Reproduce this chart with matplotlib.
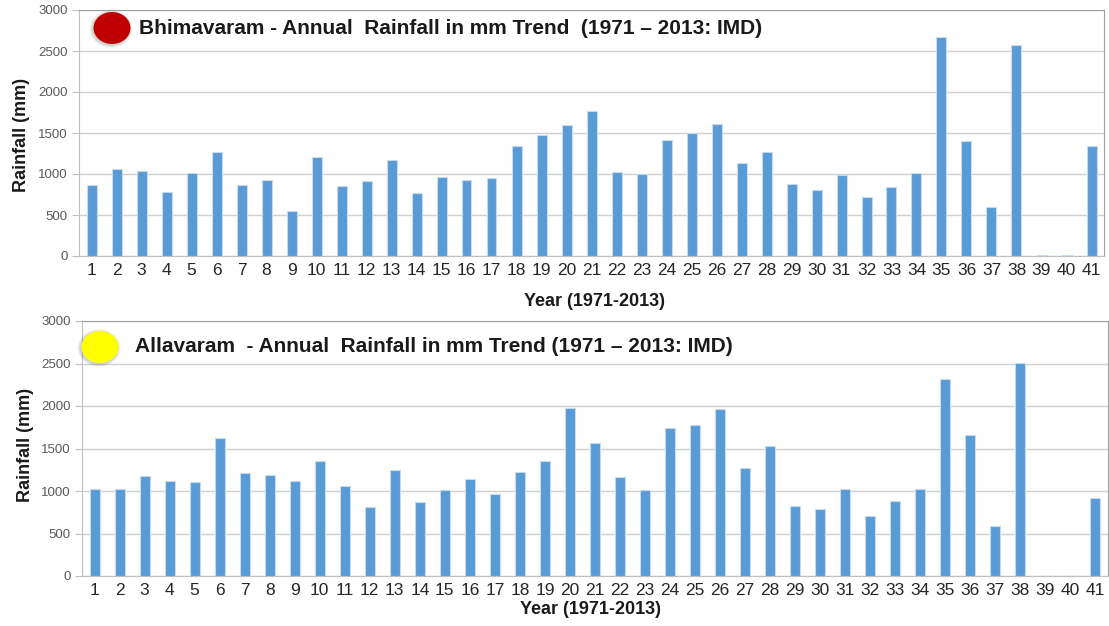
import matplotlib.pyplot as plt
from matplotlib.patches import Ellipse

years = list(range(1, 42))

bhimavaram = [862, 1065, 1037, 780, 1012, 1272, 870, 923, 553, 1211,
              850, 915, 1167, 764, 959, 923, 947, 1341, 1476, 1598,
              1768, 1020, 1000, 1415, 1496, 1610, 1130, 1264, 882, 801,
              988, 720, 841, 1012, 2671, 1402, 593, 2577, 8, 8, 1346]

allavaram = [1021, 1029, 1174, 1115, 1108, 1624, 1209, 1194, 1123, 1358,
             1057, 810, 1245, 865, 1014, 1139, 963, 1225, 1350, 1980,
             1566, 1166, 1006, 1742, 1777, 1969, 1276, 1526, 818, 787,
             1029, 701, 888, 1022, 2317, 1659, 591, 2501, 0, 0, 912]

titles = ["Bhimavaram - Annual  Rainfall in mm Trend  (1971 \u2013 2013: IMD)",
          "Allavaram  - Annual  Rainfall in mm Trend (1971 \u2013 2013: IMD)"]
dot_colors = ["#c00000", "#ffff00"]

plt.rcParams['font.family'] = ['Liberation Sans', 'DejaVu Sans']

W, H = 1109, 626
fig = plt.figure(figsize=(W / 100, H / 100), dpi=100)


def box(l, t, r, b):
    return [l / W, 1 - b / H, (r - l) / W, (b - t) / H]


def px(x, y):
    return x / W, 1 - y / H


axes_px = [(79, 10, 1104, 256), (82, 321, 1108, 576)]
dot_px = [(112, 28), (100, 347)]
title_px = [(139, 28), (135, 347)]
xlabel_px = [(595, 301), (590, 610)]
ylabel_px = [(22, 135), (25, 445)]

for i, vals in enumerate([bhimavaram, allavaram]):
    ax = fig.add_axes(box(*axes_px[i]))
    ax.bar(years, vals, width=0.4, color="#5b9bd5", edgecolor="#c5dcf0",
           linewidth=0.8, zorder=3)
    ax.set_xlim(0.5, 41.5)
    ax.set_ylim(0, 3000)
    ax.set_yticks(range(0, 3001, 500))
    ax.set_xticks(years)
    ax.set_xticklabels([str(y) for y in years])
    ax.grid(axis="y", color="#d0d0d0", linewidth=1, zorder=0)
    ax.tick_params(axis="x", length=0, pad=5, labelsize=12.5, labelcolor="#262626")
    ax.tick_params(axis="y", length=5, color="#bfbfbf", pad=3, labelsize=9.5,
                   labelcolor="#595959")
    for s in ["left", "bottom"]:
        ax.spines[s].set_color("#bfbfbf")
    for s in ["top", "right"]:
        ax.spines[s].set_color("#a0a0a0")

    # coloured dot with a soft shadow
    cx, cy = px(*dot_px[i])
    for k, a in [(6, 0.08), (4, 0.12), (2, 0.18)]:
        fig.patches.append(Ellipse((cx - 1 / W, cy - 1 / H), (37 + k) / W,
                                   (32 + k) / H, transform=fig.transFigure,
                                   color="#808080", alpha=a, zorder=4, lw=0))
    fig.patches.append(Ellipse((cx, cy), 37 / W, 32 / H,
                               transform=fig.transFigure, color=dot_colors[i],
                               zorder=5, lw=0))

    tx, ty = px(*title_px[i])
    fig.text(tx, ty, titles[i], fontsize=15, fontweight="bold",
             color="#1a1a1a", va="center", ha="left")

    lx, ly = px(*xlabel_px[i])
    fig.text(lx, ly, "Year (1971-2013)", fontsize=13, fontweight="bold",
             color="#1a1a1a", va="center", ha="center")

    yx, yy = px(*ylabel_px[i])
    fig.text(yx, yy, "Rainfall (mm)", fontsize=13, fontweight="bold",
             color="#1a1a1a", va="center", ha="center", rotation=90)

fig.savefig("out.png", dpi=100)
